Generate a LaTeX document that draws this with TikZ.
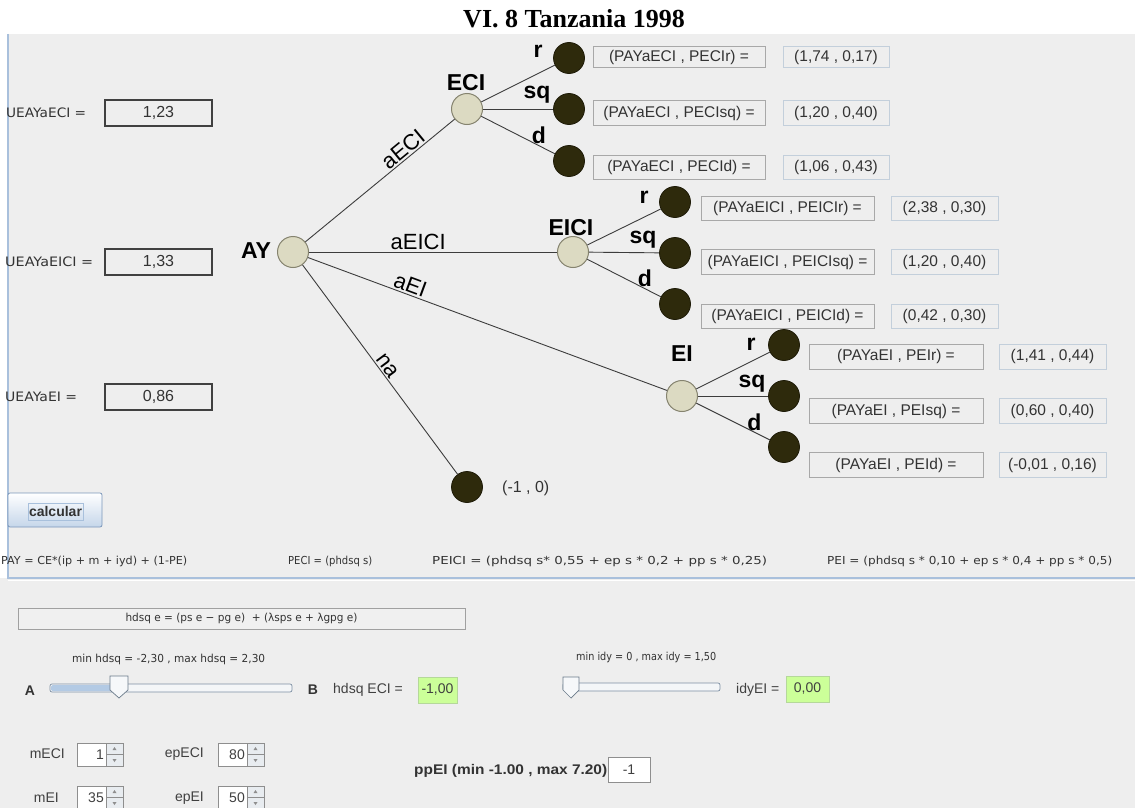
\documentclass[tikz,border=0pt]{standalone}
\usepackage{fontspec}
\usepackage{graphicx}
\setmainfont{Liberation Sans}
\newfontfamily\serifbf{Liberation Serif}
\newfontfamily\tahf{DejaVu Sans}
\newcommand\fitw[2]{\resizebox{#1}{\height}{#2}}
\definecolor{bg}{HTML}{EEEEEE}
\definecolor{dec}{HTML}{DCDAC2}
\definecolor{decb}{HTML}{85836F}
\definecolor{term}{HTML}{2E2A0C}
\definecolor{termb}{HTML}{1E1B08}
\definecolor{edgec}{HTML}{3C3C3C}
\definecolor{paneb}{HTML}{A9C0DC}
\definecolor{boxg}{HTML}{A8A8A8}
\definecolor{boxb}{HTML}{C3CFDB}
\definecolor{txt}{HTML}{333333}
\definecolor{gbox}{HTML}{CCFF99}
\definecolor{gboxb}{HTML}{B5D89A}
\definecolor{spb}{HTML}{8E8E8E}
\definecolor{spbtn}{HTML}{E8ECF0}
\definecolor{trk}{HTML}{7D8FA3}
\definecolor{trkfill}{HTML}{B3CAE4}
\definecolor{btnb}{HTML}{7B97BA}
\definecolor{btnbot}{HTML}{C5D6EA}
\definecolor{focusb}{HTML}{A8C0DC}
\definecolor{hbb}{HTML}{A0A0A0}
\definecolor{hbf}{HTML}{F0F0F0}
\definecolor{trkbg}{HTML}{F4F6F8}
\definecolor{thumbb}{HTML}{6A7A8A}
\definecolor{thumbf}{HTML}{F6F8FA}
\newcommand\spinbox[4]{%
  \draw[draw=spb,fill=white,line width=0.7pt] (#2,#3) rectangle ++(46,23);
  \draw[draw=spb,fill=spbtn,line width=0.6pt] ({#2+29},#3) rectangle ++(17,11.5);
  \draw[draw=spb,fill=spbtn,line width=0.6pt] ({#2+29},{#3+11.5}) rectangle ++(17,11.5);
  \fill[spb] ({#2+37.5},{#3+4}) -- ++(2,3) -- ++(-4,0) -- cycle;
  \fill[spb] ({#2+37.5},{#3+19}) -- ++(2,-3) -- ++(-4,0) -- cycle;
  \node[spintext,anchor=east] (#1) at ({#2+27},{#3+11.5}) {#4};
}
\begin{document}
\begin{tikzpicture}[x=1pt,y=-1pt,
  decision/.style={circle,draw=decb,fill=dec,line width=1pt,minimum size=31pt,inner sep=0pt},
  terminal/.style={circle,draw=termb,fill=term,line width=0.8pt,minimum size=31pt,inner sep=0pt},
  conn/.style={draw=edgec,line width=0.9pt},
  blab/.style={font=\fontsize{23}{26}\selectfont\bfseries,inner sep=0pt,anchor=base},
  elab/.style={font=\fontsize{22}{24}\selectfont,inner sep=1.5pt},
  pbox/.style={draw=boxg,fill=bg,line width=0.8pt,inner sep=0pt,text=txt,font=\fontsize{15.5}{17}\selectfont},
  vbox/.style={draw=boxb,fill=bg,line width=0.8pt,inner sep=0pt,text=txt,font=\fontsize{15.5}{17}\selectfont},
  tahtext/.style={font=\tahf\fontsize{11}{12}\selectfont,inner sep=0pt,text=txt},
  uetext/.style={font=\tahf\fontsize{13}{14}\selectfont,inner sep=0pt,text=txt,anchor=west},
  uebox/.style={draw=black!75,fill=bg,line width=1.1pt,inner sep=0pt,minimum width=107pt,minimum height=26pt,text=txt,font=\fontsize{16}{18}\selectfont},
  spintext/.style={font=\fontsize{14}{16}\selectfont,inner sep=0pt,text=black!75},
  gtext/.style={font=\fontsize{14}{16}\selectfont,inner sep=0pt,text=black!75},
  greenbox/.style={draw=gboxb,fill=gbox,line width=0.8pt,inner sep=0pt,text=black!75,font=\fontsize{14}{16}\selectfont}
]
\useasboundingbox (0,0) rectangle (1135,808);
% background
\fill[bg] (0,0) rectangle (1135,808);
\fill[white] (0,0) rectangle (1135,34);
\fill[white] (0,34) rectangle (7.5,578);
\draw[paneb,line width=1.5pt] (8,34) -- (8,578) -- (1135,578);
\draw[white,line width=1pt] (8,580) -- (1135,580);

% title
\node[font=\serifbf\bfseries\fontsize{26}{28}\selectfont,anchor=base,inner sep=0pt] (title) at (574,28) {VI. 8 Tanzania 1998};

% decision nodes
\node[decision] (AY) at (293,252) {};
\node[decision] (ECI) at (467,109) {};
\node[decision] (EICI) at (573,252) {};
\node[decision] (EI) at (682,396) {};
% terminals
\node[terminal] (NA) at (467,487) {};
\node[terminal] (ECIr) at (569,58) {};
\node[terminal] (ECIsq) at (569,109) {};
\node[terminal] (ECId) at (569,161) {};
\node[terminal] (EICIr) at (675,202) {};
\node[terminal] (EICIsq) at (675,253) {};
\node[terminal] (EICId) at (675,304) {};
\node[terminal] (EIr) at (784,345) {};
\node[terminal] (EIsq) at (784,396) {};
\node[terminal] (EId) at (784,447) {};

% node labels
\node[blab] (lAY) at (256,258) {AY};
\node[blab] (lECI) at (466,91) {ECI};
\node[blab] (lEICI) at (571,235) {EICI};
\node[blab] (lEI) at (682,361) {EI};

% edges from AY
\draw[conn] (AY) -- node[elab,pos=0.695,sloped,above] (eaECI) {aECI} (ECI);
\draw[conn] (AY) -- node[elab,pos=0.44,above] (eaEICI) {aEICI} (EICI);
\draw[conn] (AY) -- node[elab,pos=0.276,sloped,above] (eaEI) {aEI} (EI);
\draw[conn] (AY) -- node[elab,pos=0.505,sloped,above] (ena) {na} (NA);
\node[font=\fontsize{16}{18}\selectfont,text=txt,anchor=west,inner sep=0pt] (vna) at (502,488) {(-1 , 0)};

% ECI branches
\draw[conn] (ECI) -- (ECIr);
\draw[conn] (ECI) -- (ECIsq);
\draw[conn] (ECI) -- (ECId);
\node[blab] (lECIr) at (538,58) {r};
\node[blab] (lECIsq) at (537,98.5) {sq};
\node[blab] (lECId) at (539,143) {d};
% EICI branches
\draw[conn] (EICI) -- (EICIr);
\draw[conn] (EICI) -- (EICIsq);
\draw[conn] (EICI) -- (EICId);
\node[blab] (lEICIr) at (644,203) {r};
\node[blab] (lEICIsq) at (643,243) {sq};
\node[blab] (lEICId) at (645,286) {d};
% EI branches
\draw[conn] (EI) -- (EIr);
\draw[conn] (EI) -- (EIsq);
\draw[conn] (EI) -- (EId);
\node[blab] (lEIr) at (751,350) {r};
\node[blab] (lEIsq) at (752,387) {sq};
\node[blab] (lEId) at (754.5,430) {d};

% payoff boxes ECI
\node[pbox,minimum width=172pt,minimum height=21pt] (pECIr) at (679,57) {(PAYaECI , PECIr) =};
\node[vbox,minimum width=106pt,minimum height=21pt] (vECIr) at (836,57) {(1,74 , 0,17)};
\node[pbox,minimum width=172pt,minimum height=25pt] (pECIsq) at (679,113) {(PAYaECI , PECIsq) =};
\node[vbox,minimum width=106pt,minimum height=25pt] (vECIsq) at (836,113) {(1,20 , 0,40)};
\node[pbox,minimum width=172pt,minimum height=24pt] (pECId) at (679,167) {(PAYaECI , PECId) =};
\node[vbox,minimum width=106pt,minimum height=24pt] (vECId) at (836,167) {(1,06 , 0,43)};
% payoff boxes EICI
\node[pbox,minimum width=173pt,minimum height=24pt] (pEICIr) at (787.5,208) {(PAYaEICI , PEICIr) =};
\node[vbox,minimum width=107pt,minimum height=24pt] (vEICIr) at (944.5,208) {(2,38 , 0,30)};
\node[pbox,minimum width=173pt,minimum height=25pt] (pEICIsq) at (787.5,262) {(PAYaEICI , PEICIsq) =};
\node[vbox,minimum width=107pt,minimum height=25pt] (vEICIsq) at (944.5,262) {(1,20 , 0,40)};
\node[pbox,minimum width=173pt,minimum height=24pt] (pEICId) at (787.5,316) {(PAYaEICI , PEICId) =};
\node[vbox,minimum width=107pt,minimum height=24pt] (vEICId) at (944.5,316) {(0,42 , 0,30)};
% payoff boxes EI
\node[pbox,minimum width=174pt,minimum height=25pt] (pEIr) at (896,356.5) {(PAYaEI , PEIr) =};
\node[vbox,minimum width=107pt,minimum height=25pt] (vEIr) at (1052.5,356.5) {(1,41 , 0,44)};
\node[pbox,minimum width=174pt,minimum height=25pt] (pEIsq) at (896,411) {(PAYaEI , PEIsq) =};
\node[vbox,minimum width=107pt,minimum height=25pt] (vEIsq) at (1052.5,411) {(0,60 , 0,40)};
\node[pbox,minimum width=174pt,minimum height=25pt] (pEId) at (896,465) {(PAYaEI , PEId) =};
\node[vbox,minimum width=107pt,minimum height=25pt] (vEId) at (1052.5,465) {(-0,01 , 0,16)};

% left expected utilities
\node[uetext] (uECI) at (6,113) {\fitw{80pt}{UEAYaECI =}};
\node[uebox] (bECI) at (158.5,113) {1,23};
\node[uetext] (uEICI) at (5,262) {\fitw{88pt}{UEAYaEICI =}};
\node[uebox] (bEICI) at (158.5,262) {1,33};
\node[uetext] (uEI) at (5,397) {\fitw{72pt}{UEAYaEI =}};
\node[uebox] (bEI) at (158.5,397) {0,86};

% calcular button
\draw[draw=btnb,line width=0.8pt,rounded corners=2pt,top color=white,bottom color=btnbot] (8,493) rectangle (102,527);
\draw[draw=focusb,line width=0.6pt] (28,503) rectangle (83,520);
\node[font=\fontsize{14}{16}\selectfont\bfseries,text=black!80,inner sep=0pt] (calc) at (55.5,511.5) {calcular};

% formula line
\node[tahtext,anchor=west] (fPAY) at (1,561) {\fitw{186pt}{PAY = CE*(ip + m + iyd) + (1-PE)}};
\node[tahtext,anchor=west] (fPECI) at (288,561) {\fitw{84pt}{PECI = (phdsq s)}};
\node[tahtext,anchor=west] (fPEICI) at (432,561) {\fitw{335pt}{PEICI = (phdsq s* 0,55 + ep s * 0,2 + pp s * 0,25)}};
\node[tahtext,anchor=west] (fPEI) at (827,561) {\fitw{285pt}{PEI = (phdsq s * 0,10 + ep s * 0,4 + pp s * 0,5)}};

% lower controls
\node[draw=hbb,fill=hbf,line width=0.8pt,minimum width=447pt,minimum height=21pt,inner sep=0pt] (hdsqbox) at (241.5,618.5) {};
\node[tahtext] (hdsqf) at (241.5,618.5) {\fitw{232pt}{hdsq e = (ps e − pg e)\ \ + (λsps e + λgpg e)}};
\node[tahtext,anchor=west] (minh) at (72,659) {\fitw{193pt}{min hdsq = -2,30 , max hdsq = 2,30}};
\node[tahtext,anchor=west] (mini) at (576,657) {\fitw{140pt}{min idy = 0 , max idy = 1,50}};

% slider 1
\node[font=\fontsize{14}{16}\selectfont\bfseries,text=black!80,inner sep=0pt] (sA) at (30,691) {A};
\draw[draw=trk,fill=trkbg,line width=0.7pt,rounded corners=2pt] (50,684) rectangle (292,692);
\fill[trkfill,rounded corners=1.5pt] (51,685) rectangle (119,691);
\draw[draw=thumbb,fill=thumbf,line width=0.7pt] (110,676) -- (128,676) -- (128,690) -- (119,698) -- (110,690) -- cycle;
\node[font=\fontsize{14}{16}\selectfont\bfseries,text=black!80,inner sep=0pt] (sB) at (313,690) {B};
\node[gtext,anchor=west] (hECI) at (333,690) {hdsq ECI =};
\node[greenbox,minimum width=39pt,minimum height=26pt] (gh) at (437.5,690) {-1,00};

% slider 2
\draw[draw=trk,fill=trkbg,line width=0.7pt,rounded corners=2pt] (563,683) rectangle (720,691);
\draw[draw=thumbb,fill=thumbf,line width=0.7pt] (563,677) -- (579,677) -- (579,690) -- (571,698) -- (563,690) -- cycle;
\node[gtext,anchor=west] (iEI) at (736,690) {idyEI =};
\node[greenbox,minimum width=43pt,minimum height=26pt] (gi) at (807.5,689) {0,00};

% spinners
\node[gtext,anchor=east] (lmECI) at (65,754) {mECI};
\spinbox{smECI}{77}{743}{1}
\node[gtext,anchor=east] (lepECI) at (204,754) {epECI};
\spinbox{sepECI}{218}{743}{80}
\node[gtext,anchor=east] (lmEI) at (59,798) {mEI};
\spinbox{smEI}{77}{786}{35}
\node[gtext,anchor=east] (lepEI) at (204,798) {epEI};
\spinbox{sepEI}{218}{786}{50}

% ppEI
\node[font=\fontsize{14}{16}\selectfont\bfseries,text=black!80,inner sep=0pt,anchor=west] (ppl) at (414,771) {\fitw{193pt}{ppEI (min -1.00 , max 7.20)}};
\node[draw=spb,fill=white,line width=0.7pt,minimum width=42pt,minimum height=25pt,inner sep=0pt,font=\fontsize{14}{16}\selectfont,text=black!75] (ppv) at (629,769.5) {-1};
\end{tikzpicture}
\end{document}
